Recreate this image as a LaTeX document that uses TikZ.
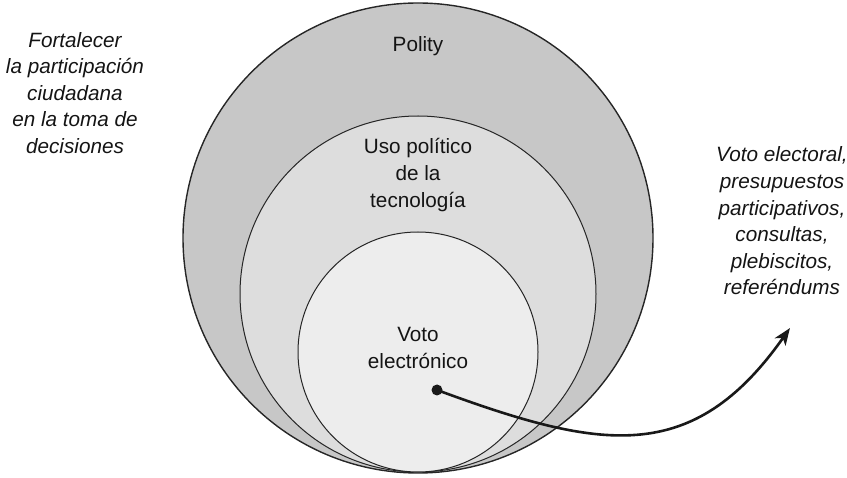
\documentclass[tikz,border=0pt]{standalone}
\usepackage{fontspec}
\setmainfont{Liberation Sans}
\usetikzlibrary{arrows.meta}
\definecolor{outerfill}{RGB}{199,199,199}
\definecolor{midfill}{RGB}{221,221,221}
\definecolor{innerfill}{RGB}{237,237,237}
\definecolor{txt}{RGB}{20,20,20}
\tikzset{
  ring/.style={circle, draw=black!85, line width=1pt, inner sep=0pt},
  lbl/.style={align=center, text=txt, inner sep=0pt, font=\fontsize{20.7}{26.8}\selectfont},
  side/.style={lbl, font=\fontsize{20.7}{26.6}\selectfont\itshape},
  link/.style={line width=2.6pt, black!90, -{Stealth[length=17pt,width=13pt,inset=4.5pt]}}
}
\begin{document}
\begin{tikzpicture}[x=1pt,y=-1pt]
\useasboundingbox (0,0) rectangle (847,478);
\node[ring, fill=outerfill, line width=1.4pt, minimum size=470pt] (polity) at (418,238) {};
\node[ring, fill=midfill, minimum size=356pt] (uso) at (418,294) {};
\node[ring, fill=innerfill, minimum size=240pt] (voto) at (418,352) {};
\node[lbl] (tpolity) at (418,46) {Polity};
\node[lbl] (tuso) at (418,175) {Uso político\\de la\\tecnología};
\node[lbl] (tvoto) at (418,348) {Voto\\electrónico};
\node[side] (left) at (75,93) {Fortalecer\\la participación\\ciudadana\\en la toma de\\decisiones};
\node[side] (right) at (782,221) {Voto electoral,\\presupuestos\\participativos,\\consultas,\\plebiscitos,\\referéndums};
\node[circle, fill=black!90, inner sep=0pt, minimum size=11pt] (dot) at (437,390) {};
\coordinate (tip) at (790,328);
\draw[link] (dot.center) .. controls (600,450) and (692,467) .. (tip);
\end{tikzpicture}
\end{document}
